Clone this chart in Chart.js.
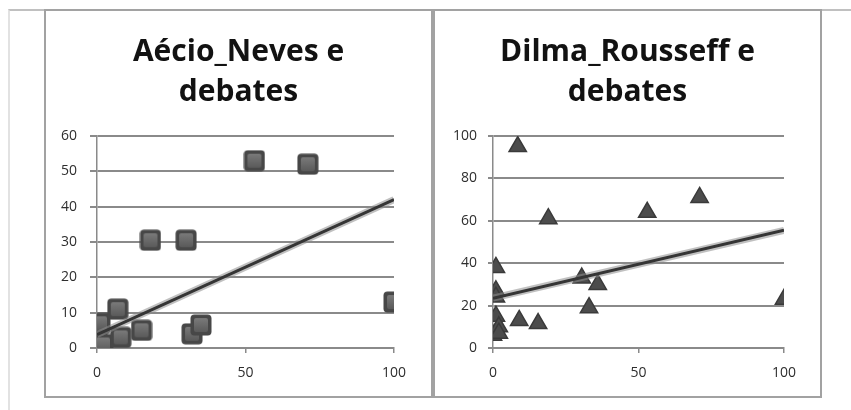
<!DOCTYPE html>
<html>
<head>
<meta charset="utf-8">
<script src="https://cdn.jsdelivr.net/npm/chart.js@4.4.1/dist/chart.umd.min.js"></script>
<style>
  html, body { margin: 0; padding: 0; background: #ffffff; }
  body { width: 851px; height: 410px; position: relative; overflow: hidden; }
  .frame { position: absolute; left: 8px; top: 9px; width: 843px; height: 401px;
           border-top: 2px solid #c0c0c0; border-left: 2px solid #e2e2e2; box-sizing: border-box; }
  .panel { position: absolute; top: 9px; width: 389px; height: 389px;
           border: 2px solid #a2a2a2; box-sizing: border-box; background: #fff; }
  #p1 { left: 44px; }
  #p2 { left: 433px; }
  canvas { position: absolute; left: 0; top: 0; }
</style>
</head>
<body>
<div class="frame"></div>
<div class="panel" id="p1"><canvas id="c1" width="385" height="385"></canvas></div>
<div class="panel" id="p2"><canvas id="c2" width="385" height="385"></canvas></div>
<script>
// Aécio Neves vs debates
const aecioTitle = ["Aécio_Neves e", "debates"];
const aecioX = [0, 1, 0, 2, 1, 7, 8, 15, 18, 30, 32, 35, 53, 71, 100];
const aecioY = [0, 0, 3, 1, 7, 11, 3, 5, 30.5, 30.5, 4, 6.5, 53, 52, 13];
const aecioTrendX = [0, 100];
const aecioTrendY = [3.8, 42];
const aecioYTicks = [0, 10, 20, 30, 40, 50, 60];

// Dilma Rousseff vs debates
const dilmaTitle = ["Dilma_Rousseff e", "debates"];
const dilmaX = [0, 1, 1, 1, 1, 2, 2, 8.5, 9, 15.5, 19, 30.5, 33, 36, 53, 71, 100];
const dilmaY = [6, 38, 27, 24, 15, 10, 7, 95, 13, 11.5, 61, 33, 19, 30, 64, 71, 23];
const dilmaTrendX = [0, 100];
const dilmaTrendY = [23.5, 55.5];
const dilmaYTicks = [0, 20, 40, 60, 80, 100];

const xTicks = [0, 50, 100];

const pts = (xs, ys) => xs.map((x, i) => ({ x: x, y: ys[i] }));

// Bevelled square marker sprite
function squareSprite(size) {
  const c = document.createElement('canvas');
  c.width = size; c.height = size;
  const g = c.getContext('2d');
  g.fillStyle = '#474747';
  g.beginPath(); g.roundRect(0.5, 0.5, size - 1, size - 1, 4); g.fill();
  const grad = g.createLinearGradient(0, 4, 0, size - 4);
  grad.addColorStop(0, '#7a7a7a');
  grad.addColorStop(1, '#5a5a5a');
  g.fillStyle = grad;
  g.beginPath(); g.roundRect(4, 4, size - 8, size - 8, 2); g.fill();
  return c;
}

function makeChart(id, cfg) {
  const gridColor = '#8a8a8a';
  return new Chart(document.getElementById(id), {
    type: 'scatter',
    data: {
      datasets: [
        {
          // trend line (drawn on top)
          type: 'line',
          data: pts(cfg.trendX, cfg.trendY),
          borderColor: '#353535',
          borderWidth: 3,
          pointRadius: 0,
          fill: false
        },
        {
          // soft halo under the trend line
          type: 'line',
          data: pts(cfg.trendX, cfg.trendY),
          borderColor: 'rgba(140,140,140,0.55)',
          borderWidth: 7,
          pointRadius: 0,
          fill: false
        },
        {
          data: pts(cfg.xs, cfg.ys),
          pointStyle: cfg.marker,
          pointRadius: cfg.markerRadius,
          backgroundColor: cfg.markerFill,
          borderColor: cfg.markerEdge,
          borderWidth: 1.5
        }
      ]
    },
    options: {
      responsive: false,
      animation: false,
      events: [],
      layout: { padding: 0 },
      plugins: {
        legend: { display: false },
        tooltip: { enabled: false },
        title: {
          display: true,
          text: cfg.title,
          color: '#121212',
          font: { family: 'Open Sans', weight: 'bold', size: 30, lineHeight: 1.333 },
          padding: { top: 21, bottom: 24 }
        }
      },
      scales: {
        x: {
          type: 'linear',
          min: 0, max: 100,
          afterBuildTicks: (s) => { s.ticks = xTicks.map(v => ({ value: v })); },
          afterFit: (s) => { s.height = 48; },
          grid: { drawOnChartArea: false, drawTicks: true, tickLength: 5, color: gridColor, lineWidth: 1.5 },
          border: { display: true, color: gridColor, width: 2 },
          ticks: { color: '#2e2e2e', padding: 12, font: { family: 'Open Sans', size: 14 }, maxRotation: 0 }
        },
        y: {
          type: 'linear',
          min: 0, max: cfg.yMax,
          afterBuildTicks: (s) => { s.ticks = cfg.yTicks.map(v => ({ value: v })); },
          afterFit: (s) => { s.width = cfg.yWidth; },
          grid: { drawOnChartArea: true, drawTicks: true, tickLength: cfg.tickLen, color: gridColor, lineWidth: 2 },
          border: { display: true, color: gridColor, width: 1.5 },
          ticks: { color: '#2e2e2e', padding: cfg.tickPad, font: { family: 'Open Sans', size: 14 } }
        },
        // empty right-hand margin so the title stays centred on the panel
        margin: {
          type: 'linear',
          position: 'right',
          display: true,
          grid: { display: false },
          border: { display: false },
          ticks: { display: false },
          afterFit: (s) => { s.width = cfg.padRight; }
        }
      }
    }
  });
}

makeChart('c1', {
  title: aecioTitle, xs: aecioX, ys: aecioY, trendX: aecioTrendX, trendY: aecioTrendY,
  yTicks: aecioYTicks, yMax: 60, yWidth: 51, padRight: 37, tickLen: 7, tickPad: 13,
  marker: squareSprite(22), markerRadius: 11, markerFill: '#5c5c5c', markerEdge: '#444444'
});

makeChart('c2', {
  title: dilmaTitle, xs: dilmaX, ys: dilmaY, trendX: dilmaTrendX, trendY: dilmaTrendY,
  yTicks: dilmaYTicks, yMax: 100, yWidth: 58, padRight: 36, tickLen: 5, tickPad: 11,
  marker: 'triangle', markerRadius: 10, markerFill: '#4c4c4c', markerEdge: '#3a3a3a'
});
</script>
</body>
</html>
